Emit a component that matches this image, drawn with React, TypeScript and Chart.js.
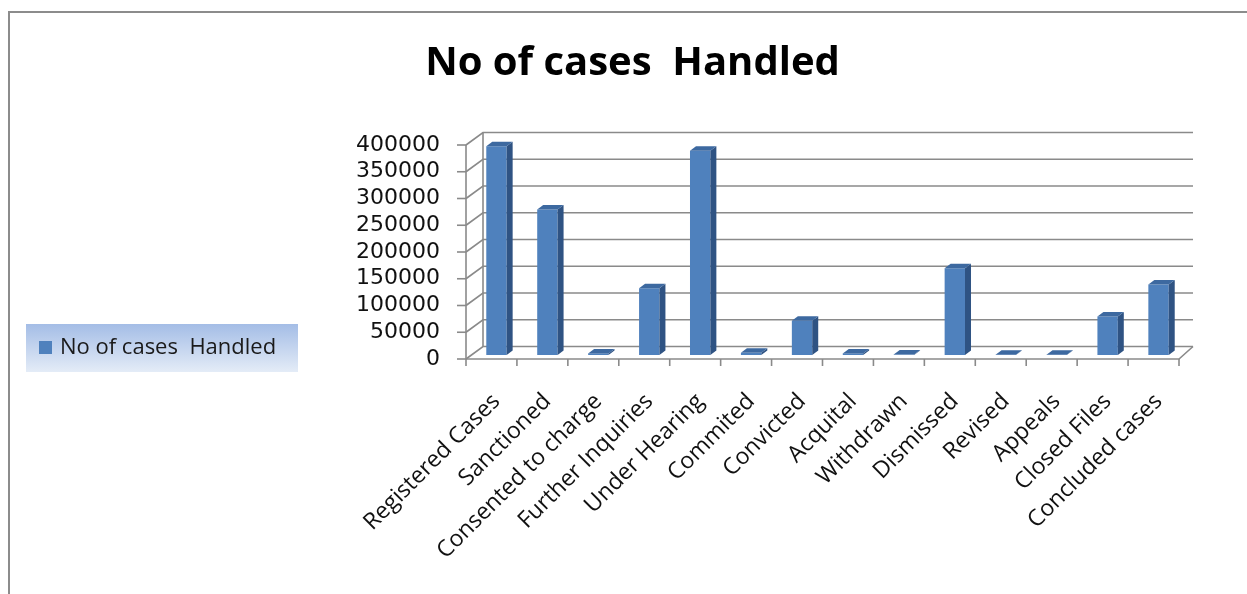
import React, { useEffect, useRef } from "react";
import { Chart, registerables } from "chart.js";

Chart.register(...registerables);

const chartTitle = "No of cases  Handled";
const seriesLabel = "No of cases  Handled";
const categories = [
  "Registered Cases",
  "Sanctioned",
  "Consented to charge",
  "Further Inquiries",
  "Under Hearing",
  "Commited",
  "Convicted",
  "Acquital",
  "Withdrawn",
  "Dismissed",
  "Revised",
  "Appeals",
  "Closed Files",
  "Concluded cases",
];
const casesHandled = [390000, 272000, 3000, 125000, 382000, 4000, 64000, 3000, 800, 162000, 400, 400, 72000, 132000];
const yTicks = [0, 50000, 100000, 150000, 200000, 250000, 300000, 350000, 400000];

// 3D styling offsets (pixels)
const FRONT_DX = -5;
const FRONT_DY = 4;
const BACK_DX = 12;
const BACK_DY = -8.5;
const BAR_DX = 6;
const BAR_DY = -4.5;
const GRID_COLOR = "#8a8a8a";

const framePlugin = {
  id: "frame",
  beforeDraw(chart: any) {
    const ctx = chart.ctx;
    ctx.save();
    ctx.fillStyle = "#ffffff";
    ctx.fillRect(0, 0, chart.width, chart.height);
    ctx.strokeStyle = "#8c8c8c";
    ctx.lineWidth = 2;
    ctx.beginPath();
    ctx.moveTo(9, chart.height);
    ctx.lineTo(9, 12);
    ctx.lineTo(chart.width, 12);
    ctx.stroke();
    ctx.restore();
  },
};

const wallsPlugin = {
  id: "walls3d",
  beforeDatasetsDraw(chart: any) {
    const ctx = chart.ctx;
    const { left, right } = chart.chartArea;
    const ys = chart.scales.y;
    ctx.save();
    ctx.strokeStyle = GRID_COLOR;
    ctx.lineWidth = 1.6;
    const y0 = ys.getPixelForValue(yTicks[0]);
    const yTop = ys.getPixelForValue(yTicks[yTicks.length - 1]);
    yTicks.forEach((v) => {
      const y = ys.getPixelForValue(v);
      ctx.beginPath();
      ctx.moveTo(left + FRONT_DX, y + FRONT_DY);
      ctx.lineTo(left + BACK_DX, y + BACK_DY);
      ctx.lineTo(right + BACK_DX - 3, y + BACK_DY);
      ctx.stroke();
      ctx.beginPath();
      ctx.moveTo(left + FRONT_DX - 9, y + FRONT_DY);
      ctx.lineTo(left + FRONT_DX, y + FRONT_DY);
      ctx.stroke();
    });
    ctx.beginPath();
    ctx.moveTo(left + BACK_DX, y0 + BACK_DY);
    ctx.lineTo(left + BACK_DX, yTop + BACK_DY);
    ctx.stroke();
    ctx.beginPath();
    ctx.moveTo(left + FRONT_DX, y0 + FRONT_DY);
    ctx.lineTo(left + FRONT_DX, yTop + FRONT_DY);
    ctx.stroke();
    ctx.beginPath();
    ctx.moveTo(left + FRONT_DX, y0 + FRONT_DY);
    ctx.lineTo(right + FRONT_DX, y0 + FRONT_DY);
    ctx.lineTo(right + BACK_DX - 3, y0 + BACK_DY);
    ctx.stroke();
    const n = categories.length;
    const step = (right - left) / n;
    for (let i = 0; i <= n; i++) {
      const x = left + FRONT_DX + i * step;
      ctx.beginPath();
      ctx.moveTo(x, y0 + FRONT_DY);
      ctx.lineTo(x, y0 + FRONT_DY + 7);
      ctx.stroke();
    }
    ctx.restore();
  },
  afterDatasetsDraw(chart: any) {
    const ctx = chart.ctx;
    const meta = chart.getDatasetMeta(0);
    ctx.save();
    meta.data.forEach((bar: any) => {
      const { x, y, base, width } = bar.getProps(["x", "y", "base", "width"], true);
      const l = x - width / 2;
      const r = x + width / 2;
      ctx.fillStyle = "#2f5383";
      ctx.beginPath();
      ctx.moveTo(r, y);
      ctx.lineTo(r + BAR_DX, y + BAR_DY);
      ctx.lineTo(r + BAR_DX, base + BAR_DY);
      ctx.lineTo(r, base);
      ctx.closePath();
      ctx.fill();
      ctx.fillStyle = "#3d69a0";
      ctx.beginPath();
      ctx.moveTo(l, y);
      ctx.lineTo(l + BAR_DX, y + BAR_DY);
      ctx.lineTo(r + BAR_DX, y + BAR_DY);
      ctx.lineTo(r, y);
      ctx.closePath();
      ctx.fill();
    });
    ctx.restore();
  },
};

const legendPlugin = {
  id: "boxLegend",
  afterDraw(chart: any) {
    const ctx = chart.ctx;
    const bx = 26, by = 324, bw = 272, bh = 48;
    ctx.save();
    const g = ctx.createLinearGradient(0, by, 0, by + bh);
    g.addColorStop(0, "rgb(164,189,230)");
    g.addColorStop(1, "rgb(228,236,247)");
    ctx.fillStyle = g;
    ctx.fillRect(bx, by, bw, bh);
    ctx.fillStyle = "#4f81bd";
    ctx.fillRect(39, 341, 13, 13);
    ctx.fillStyle = "#1a1a1a";
    ctx.font = "22px 'Open Sans'";
    ctx.textBaseline = "middle";
    ctx.textAlign = "left";
    ctx.fillText(chart.data.datasets[0].label, 60, 348);
    ctx.restore();
  },
};

export default function App() {
  const ref = useRef<HTMLCanvasElement>(null);
  useEffect(() => {
    if (!ref.current) return;
    const chart = new Chart(ref.current, {
      type: "bar",
      data: {
        labels: categories,
        datasets: [
          {
            label: seriesLabel,
            data: casesHandled,
            backgroundColor: "#4f81bd",
            borderWidth: 0,
            barPercentage: 0.4,
            categoryPercentage: 1,
          },
        ],
      },
      options: {
        animation: false,
        responsive: true,
        maintainAspectRatio: false,
        layout: { padding: { left: 81, right: 63, top: 0, bottom: 0 } },
        plugins: {
          legend: { display: false },
          tooltip: { enabled: false },
          title: {
            display: true,
            text: chartTitle,
            color: "#000000",
            font: { family: "'Open Sans'", size: 40, weight: "bold" },
            padding: { top: 40, bottom: 53 },
          },
        },
        scales: {
          x: {
            grid: { display: false, drawTicks: false },
            border: { display: false },
            ticks: {
              autoSkip: false,
              maxRotation: 45,
              minRotation: 45,
              padding: 33,
              color: "#111111",
              font: { family: "'Open Sans'", size: 23 },
            },
            afterFit(scale: any) {
              scale.height = 239;
            },
          },
          y: {
            min: 0,
            max: 400000,
            grid: { display: false, drawTicks: false },
            border: { display: false },
            afterBuildTicks(scale: any) {
              scale.ticks = yTicks.map((v) => ({ value: v }));
            },
            ticks: {
              autoSkip: false,
              padding: 31,
              labelOffset: 4,
              color: "#111111",
              font: { family: "'DejaVu Sans'", size: 22 },
              callback: (v: any) => String(v),
            },
            afterFit(scale: any) {
              scale.width = 390;
            },
          },
        },
      },
      plugins: [framePlugin, wallsPlugin, legendPlugin],
    });
    return () => chart.destroy();
  }, []);
  return (
    <div style={{ position: "fixed", left: 0, top: 0, width: 1247, height: 594 }}>
      <canvas ref={ref} />
    </div>
  );
}
